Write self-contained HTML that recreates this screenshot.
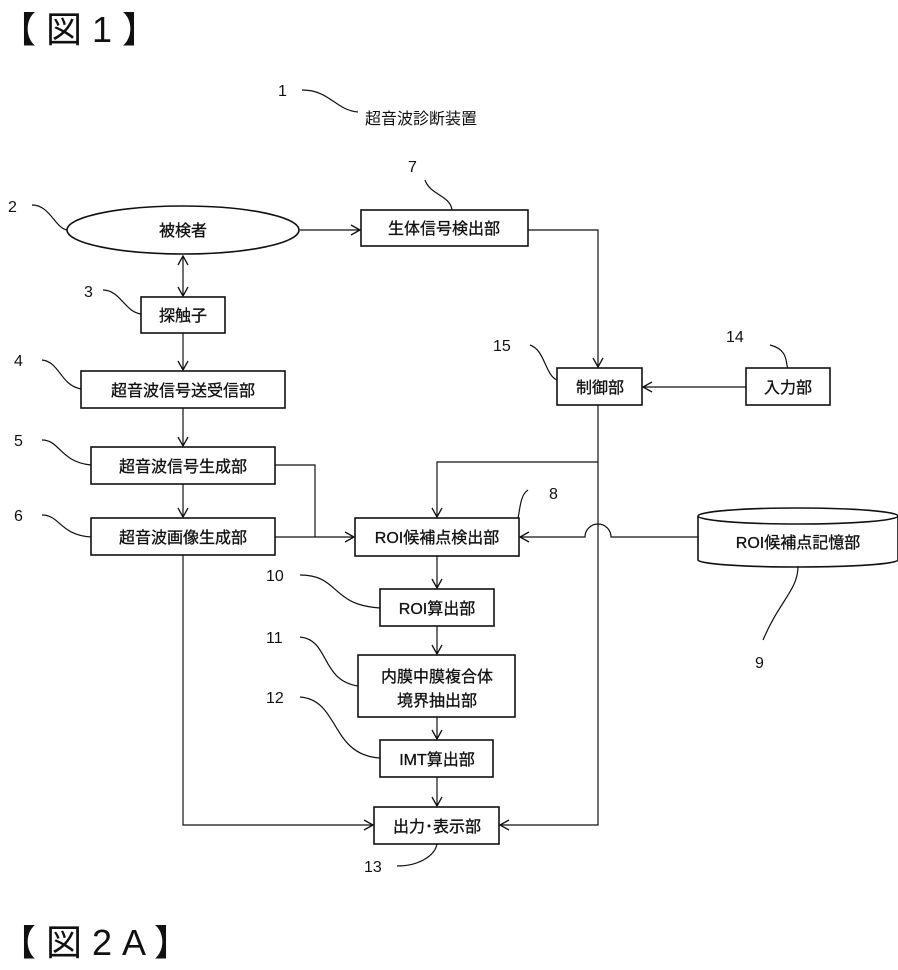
<!DOCTYPE html>
<html><head><meta charset="utf-8"><style>
body{margin:0;background:#fff;}
svg{display:block;}
text{font-family:"Liberation Sans","Noto Sans CJK JP",sans-serif;fill:#111;}
</style></head><body>
<svg width="898" height="970" viewBox="0 0 898 970" xmlns="http://www.w3.org/2000/svg">
<defs><marker id="a" markerWidth="12" markerHeight="12" refX="10" refY="6" orient="auto-start-reverse" markerUnits="userSpaceOnUse"><path d="M1,1 L10,6 L1,11" fill="none" stroke="#111" stroke-width="1.3"/></marker></defs>
<g font-size="36"><text x="0" y="42">【 図 1 】</text><text x="0" y="955">【 図 2 A 】</text></g>
<g fill="none" stroke="#111" stroke-width="1.6">
<ellipse cx="183" cy="230" rx="116" ry="24"/>
<rect x="361" y="210" width="167" height="36"/>
<rect x="141" y="297" width="84" height="36"/>
<rect x="81" y="371" width="204" height="37"/>
<rect x="91" y="447" width="184" height="37"/>
<rect x="91" y="518" width="184" height="37"/>
<rect x="355" y="518" width="164" height="38"/>
<rect x="380" y="589" width="114" height="37"/>
<rect x="358" y="655" width="157" height="62"/>
<rect x="380" y="740" width="113" height="37"/>
<rect x="374" y="807" width="125" height="37"/>
<rect x="557" y="368" width="85" height="37"/>
<rect x="746" y="368" width="84" height="37"/>
<path d="M698,516 L698,560 A100,7 0 0 0 898,560 L898,516"/>
<ellipse cx="798" cy="516" rx="100" ry="8"/>
</g>
<g fill="none" stroke="#111" stroke-width="1.2">
<path d="M300,230 H360" marker-end="url(#a)"/>
<path d="M183,256 V296" marker-end="url(#a)" marker-start="url(#a)"/>
<path d="M183,333 V370" marker-end="url(#a)"/>
<path d="M183,408 V446" marker-end="url(#a)"/>
<path d="M183,484 V517" marker-end="url(#a)"/>
<path d="M528,230 H598 V367" marker-end="url(#a)"/>
<path d="M746,387 H643" marker-end="url(#a)"/>
<path d="M598,405 V825 H500" marker-end="url(#a)"/>
<path d="M598,462 H437 V517" marker-end="url(#a)"/>
<path d="M275,465 H315 V537"/>
<path d="M275,537 H354" marker-end="url(#a)"/>
<path d="M698,537 H611 A13,13 0 0 0 585,537 H520" marker-end="url(#a)"/>
<path d="M437,556 V588" marker-end="url(#a)"/>
<path d="M437,626 V654" marker-end="url(#a)"/>
<path d="M437,717 V739" marker-end="url(#a)"/>
<path d="M437,777 V806" marker-end="url(#a)"/>
<path d="M183,555 V825 H373" marker-end="url(#a)"/>
<path d="M302,90 C330,90 335,110 358,112"/>
<path d="M425,180 C430,195 450,195 452,210"/>
<path d="M32,205 C50,205 55,228 67,230"/>
<path d="M103,290 C120,290 125,312 141,314"/>
<path d="M42,360 C60,362 60,385 81,389"/>
<path d="M42,440 C60,440 60,462 91,465"/>
<path d="M42,515 C60,515 60,535 91,537"/>
<path d="M530,345 C545,350 545,375 557,380"/>
<path d="M770,345 C790,350 785,365 788,368"/>
<path d="M528,490 C520,495 520,510 518,518"/>
<path d="M798,566 C798,590 780,600 763,640"/>
<path d="M300,575 C340,575 330,605 380,608"/>
<path d="M300,637 C330,640 320,680 358,686"/>
<path d="M300,697 C340,700 330,755 380,758"/>
<path d="M397,866 C420,866 435,855 437,844"/>
</g>
<g font-size="16">
<text x="278" y="96">1</text>
<text x="365" y="124">超音波診断装置</text>
<text x="408" y="172">7</text>
<text x="8" y="212">2</text>
<text x="84" y="297">3</text>
<text x="14" y="366">4</text>
<text x="14" y="446">5</text>
<text x="14" y="521">6</text>
<text x="493" y="351">15</text>
<text x="726" y="342">14</text>
<text x="549" y="499">8</text>
<text x="755" y="668">9</text>
<text x="266" y="581">10</text>
<text x="266" y="643">11</text>
<text x="266" y="703">12</text>
<text x="364" y="872">13</text>
</g>
<g font-size="16" text-anchor="middle" style="stroke:#111;stroke-width:0.3">
<text x="183" y="236">被検者</text>
<text x="444" y="234">生体信号検出部</text>
<text x="183" y="321">探触子</text>
<text x="183" y="396">超音波信号送受信部</text>
<text x="183" y="472">超音波信号生成部</text>
<text x="183" y="543">超音波画像生成部</text>
<text x="437" y="543">ROI候補点検出部</text>
<text x="437" y="614">ROI算出部</text>
<text x="437" y="682">内膜中膜複合体</text>
<text x="437" y="706">境界抽出部</text>
<text x="437" y="765">IMT算出部</text>
<text x="437" y="832">出力･表示部</text>
<text x="600" y="393">制御部</text>
<text x="788" y="393">入力部</text>
<text x="798" y="548">ROI候補点記憶部</text>
</g>
</svg>
</body></html>
